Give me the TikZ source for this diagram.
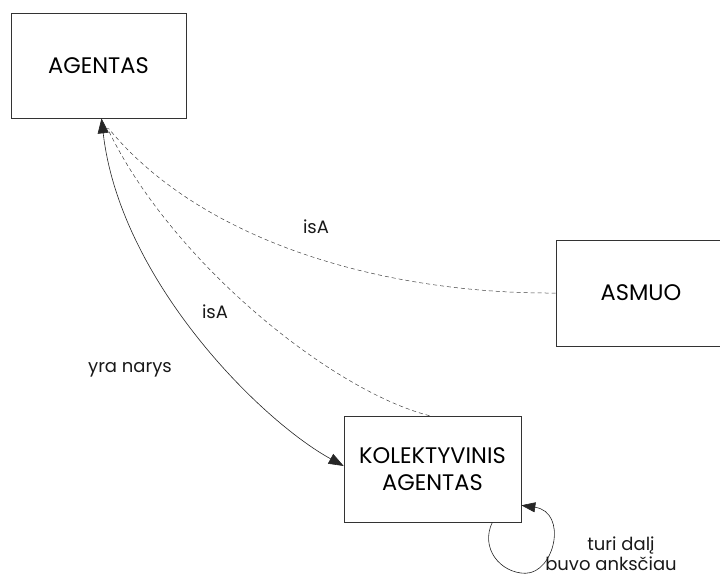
\documentclass[tikz,border=0pt]{standalone}
\usepackage{fontspec}
\setmainfont{Poppins}
\usetikzlibrary{arrows.meta}
\begin{document}
\begin{tikzpicture}[x=1pt,y=-1pt,
  concept/.style={draw=black!80, line width=0.6pt, rectangle, align=center,
    inner sep=0pt, font=\fontsize{22.5}{27}\selectfont},
  rel/.style={font=\fontsize{18}{21}\selectfont, text=black!90, inner sep=1pt},
  isa/.style={draw=black!75, line width=0.5pt, dash pattern=on 4pt off 3pt},
  member/.style={draw=black!85, line width=0.6pt},
  tip/.style={Triangle[length=15pt,width=11pt]},
  head/.style={-{Triangle[length=14pt,width=10pt]}},
]
\useasboundingbox (0,0) rectangle (720,576);

% concepts
\node[concept, minimum width=175pt, minimum height=105pt] (agentas) at (98.5,65.5) {AGENTAS};
\node[concept, minimum width=170pt, minimum height=106pt] (asmuo) at (641,293) {ASMUO};
\node[concept, minimum width=177pt, minimum height=106pt] (kolekt) at (432.5,469) {KOLEKTYVINIS\\AGENTAS};

% isA links
\draw[isa] (asmuo.west) .. controls (380,294) and (200,240) .. ([xshift=10pt,yshift=-10pt]agentas.south);
\draw[isa] ([xshift=-3pt]kolekt.north) .. controls (330,390) and (170,260) .. ([xshift=9pt,yshift=-10pt]agentas.south);

% membership link, arrows at both ends
\draw[member, {Triangle[length=15pt,width=11pt]}-{Triangle[length=15pt,width=11pt]}]
  ([yshift=3pt]kolekt.west) .. controls (260,420) and (120,280) .. ([xshift=3pt]agentas.south);

% part-of / predecessor loop
\draw[member, head]
  ([xshift=-29pt]kolekt.south east) .. controls (480,548) and (500,573) ..
  ([shift={(4,51)}]kolekt.south east) .. controls (555,573) and (568,512) ..
  ([yshift=17pt]kolekt.south east);

% relation labels
\node[rel] (isa1) at (316,227) {isA};
\node[rel] (isa2) at (215,312) {isA};
\node[rel] (narys) at (130,370) {yra narys};
\node[rel] (dalis) at (621,545) {turi dalį};
\node[rel] (buvo) at (611,564) {buvo anksčiau};
\end{tikzpicture}
\end{document}
